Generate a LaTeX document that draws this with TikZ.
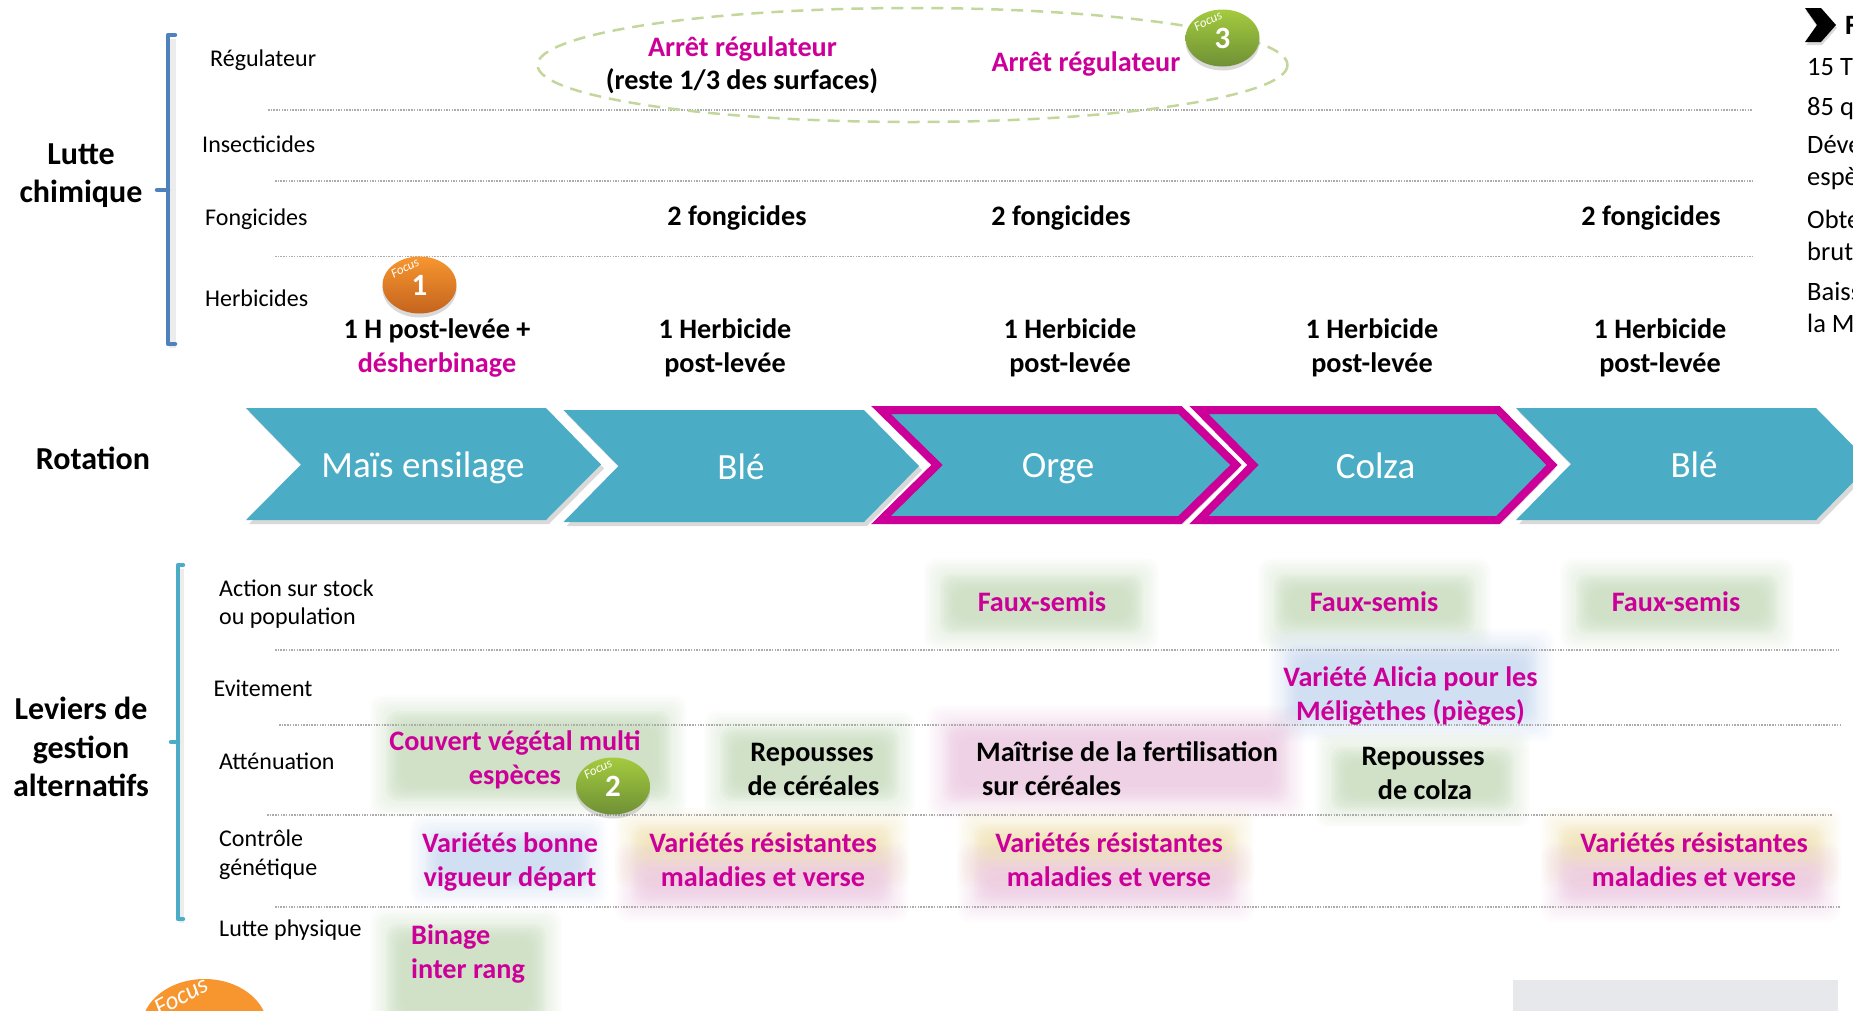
\documentclass[tikz,border=0pt]{standalone}
\usepackage{fontspec}
\setmainfont{Carlito}
\usetikzlibrary{shapes.geometric,shadows}
\definecolor{magentaleg}{HTML}{CC0099}
\definecolor{bluebrace}{HTML}{4F81BD}
\definecolor{tealbrace}{HTML}{4BACC6}
\definecolor{cropfill}{HTML}{4BACC6}
\definecolor{softgreen}{HTML}{C6DBBC}
\definecolor{softblue}{HTML}{C8D8F0}
\definecolor{softpink}{HTML}{EBC8E0}
\definecolor{softyellow}{HTML}{EFE0B0}
\definecolor{orangetop}{HTML}{F7962F}
\definecolor{orangelow}{HTML}{C4641E}
\definecolor{greentop}{HTML}{A4CB3E}
\definecolor{greenlow}{HTML}{6F9036}
\definecolor{dashgreen}{HTML}{C3D69B}
\definecolor{photogrey}{HTML}{E6E8EC}
\tikzset{%
	rowlabel/.style={anchor=west, align=left, inner sep=0pt, font=\fontsize{24}{28.5}\selectfont},
	sidetext/.style={rowlabel, font=\fontsize{26.5}{32}\selectfont},
	title/.style={align=center, inner sep=0pt, font=\fontsize{32}{38.5}\selectfont\bfseries},
	info/.style={align=center, inner sep=0pt, yshift=-1pt, font=\fontsize{28.2}{34}\selectfont\bfseries},
	lever/.style={info, text=magentaleg},
	dots/.style={draw=gray!65, line width=1.5pt, dash pattern=on 1.5pt off 1.2pt},
	bracket/.style={line width=4.5pt, line join=round, line cap=round},
	brackettail/.style={bracket, drop shadow={shadow xshift=1pt, shadow yshift=-4pt, opacity=.15, fill=gray}},
	crop/.style={fill=cropfill, drop shadow={shadow xshift=3pt, shadow yshift=-4pt, opacity=.3, fill=gray}},
	focuscrop/.style={crop, draw=magentaleg, line width=8pt, miter limit=10},
	croplabel/.style={text=white, inner sep=0pt, font=\fontsize{37}{40}\selectfont},
	badge/.style={ellipse, inner sep=0pt, minimum width=74pt, minimum height=57pt, text=white, font=\fontsize{31}{31}\selectfont\bfseries, drop shadow={shadow xshift=0pt, shadow yshift=-4pt, opacity=.3, fill=gray}},
	orangebadge/.style={badge, top color=orangetop, bottom color=orangelow},
	greenbadge/.style={badge, top color=greentop, bottom color=greenlow},
	focustag/.style={text=white, rotate=28, inner sep=0pt, font=\fontsize{13}{13}\selectfont\itshape}
}
% x1, y1, x2, y2, colour
\newcommand{\softpatch}[5]{%
	\foreach \inset in {-2,0,...,12} {
		\fill[#5, opacity=.05, rounded corners=12pt] (#1+\inset,#2+\inset) rectangle (#3-\inset,#4-\inset);
	}
	\foreach \inset in {14,16,...,30} {
		\fill[#5, opacity=.14, rounded corners=12pt] (#1+\inset,#2+\inset) rectangle (#3-\inset,#4-\inset);
	}
}
\begin{document}
\begin{tikzpicture}[x=1pt, y=-1pt]
	\useasboundingbox (0,0) rectangle (1853,1010);
	\clip (0,0) rectangle (1853,1010);

	\softpatch{926}{560}{1157}{648}{softgreen}
	\softpatch{1260}{560}{1489}{648}{softgreen}
	\softpatch{1562}{560}{1792}{648}{softgreen}
	\softpatch{1270}{630}{1552}{740}{softblue}
	\softpatch{929}{707}{1303}{817}{softpink}
	\softpatch{1317}{733}{1528}{825}{softgreen}
	\softpatch{372}{697}{685}{815}{softgreen}
	\softpatch{706}{713}{913}{815}{softgreen}
	\softpatch{412}{817}{605}{903}{softblue}
	\softpatch{372}{910}{560}{1040}{softgreen}
	\foreach \xa/\xb in {617/907, 959/1252, 1543/1839} {
		\softpatch{\xa}{810}{\xb}{885}{softyellow}
		\softpatch{\xa}{845}{\xb}{920}{softpink}
	}

	\draw[dots] (268,110) -- (1752,110);
	\draw[dots] (275,181) -- (1752,181);
	\draw[dots] (275,256.5) -- (1752,256.5);
	\draw[dots] (275,650) -- (1839,650);
	\draw[dots] (279,725) -- (1842,725);
	\draw[dots] (267,815) -- (1832,815);
	\draw[dots] (275,907) -- (1840,907);

	\draw[brackettail, bluebrace] (175,35) -- (168,35) -- (168,344) -- (175,344);
	\draw[bracket, bluebrace] (157,190) -- (168,190);
	\draw[brackettail, tealbrace] (183,565) -- (178,565) -- (178,919) -- (183,919);
	\draw[bracket, tealbrace] (171,742) -- (178,742);

	\node[title] (chem) at (81,175.5) {Lutte\\chimique};
	\node[title] (rot) at (93,458) {Rotation};
	\node[title] (alt) at (81,747) {Leviers de\\gestion\\alternatifs};

	\node[rowlabel] (reg) at (210,60.5) {Régulateur};
	\node[rowlabel] (ins) at (202,144) {Insecticides};
	\node[rowlabel] (fon) at (205,219) {Fongicides};
	\node[rowlabel] (her) at (205,298.5) {Herbicides};
	\node[rowlabel] (sto) at (219,604) {Action sur stock\\ou population};
	\node[rowlabel] (evi) at (213.5,688.5) {Evitement};
	\node[rowlabel] (att) at (219,761) {Atténuation};
	\node[rowlabel] (gen) at (219,854.5) {Contrôle\\génétique};
	\node[rowlabel] (phy) at (219,930) {Lutte physique};

	\draw[draw=dashgreen, line width=2.5pt, dash pattern=on 12pt off 8pt] (912.5,65) ellipse [x radius=375, y radius=57];
	\node[lever] (arr1) at (742.5,48) {Arrêt régulateur};
	\node[info] (arr2) at (742,80.6) {(reste 1/3 des surfaces)};
	\node[lever] (arr3) at (1086,63) {Arrêt régulateur};

	\node[info] (fg1) at (737,216.6) {2 fongicides};
	\node[info] (fg2) at (1061,216.6) {2 fongicides};
	\node[info] (fg3) at (1651,216.6) {2 fongicides};

	\node[info] (hb1) at (437,329.5) {1 H post-levée +};
	\node[lever] (hb1b) at (437,363.6) {désherbinage};
	\node[info] (hb2) at (725,346.5) {1 Herbicide\\post-levée};
	\node[info] (hb3) at (1070,346.5) {1 Herbicide\\post-levée};
	\node[info] (hb4) at (1372,346.5) {1 Herbicide\\post-levée};
	\node[info] (hb5) at (1660,346.5) {1 Herbicide\\post-levée};

	\path[crop] (1516,408) -- (1816,408) -- (1871,464) -- (1816,520) -- (1516,520) -- (1571,464) -- cycle;
	\path[crop] (563.5,410) -- (864,410) -- (919,466) -- (864,522) -- (563.5,522) -- (618.5,466) -- cycle;
	\path[crop] (246,408) -- (546,408) -- (601,464.5) -- (546,520) -- (246,520) -- (301,464.5) -- cycle;
	\path[focuscrop] (881,410) -- (1180,410) -- (1236,465) -- (1180,520) -- (881,520) -- (937,465) -- cycle;
	\path[focuscrop] (1199,410) -- (1498,410) -- (1552,465) -- (1498,520) -- (1199,520) -- (1253,465) -- cycle;

	\node[croplabel] (mais) at (423,467.5) {Maïs ensilage};
	\node[croplabel] (ble1) at (741,467) {Blé};
	\node[croplabel] (orge) at (1058,469) {Orge};
	\node[croplabel] (colza) at (1375.5,466) {Colza};
	\node[croplabel] (ble2) at (1694,465) {Blé};

	\node[lever] (fs1) at (1042,601) {Faux-semis};
	\node[lever] (fs2) at (1374,601) {Faux-semis};
	\node[lever] (fs3) at (1676,601) {Faux-semis};
	\node[lever] (ali) at (1410.5,695) {Variété Alicia pour les\\Méligèthes (pièges)};
	\node[info, align=left] (mai) at (1127,768) {Maîtrise de la fertilisation\\\hspace*{6pt}sur céréales};
	\node[info] (repc) at (1423,772.5) {Repousses\\\hspace*{4pt}de colza};
	\node[lever] (cou) at (515,759) {Couvert végétal multi\\espèces};
	\node[info] (rep) at (812,768.5) {Repousses\\\hspace*{3pt}de céréales};
	\node[lever] (vb) at (510,861) {Variétés bonne\\vigueur départ};
	\node[lever] (vr1) at (763,858.5) {Variétés résistantes\\maladies et verse};
	\node[lever] (vr2) at (1109,858.5) {Variétés résistantes\\maladies et verse};
	\node[lever] (vr3) at (1694,858.5) {Variétés résistantes\\maladies et verse};
	\node[lever, align=left, anchor=west] (bin) at (411,953) {Binage\\inter rang};

	\node[orangebadge] (bd1) at (419.5,285) {1};
	\node[focustag] (tg1) at (405,268) {Focus};
	\node[greenbadge] (bd2) at (613,786) {2};
	\node[focustag] (tg2) at (598,769) {Focus};
	\node[greenbadge] (bd3) at (1222.5,38) {3};
	\node[focustag] (tg3) at (1208,21) {Focus};
	\node[badge, top color=orangetop, bottom color=orangetop, minimum width=126pt, minimum height=98pt] (bd4) at (204.5,1028) {};
	\node[focustag, font=\fontsize{25}{25}\selectfont\itshape] (tg4) at (181,996) {Focus};

	\node[fill=photogrey, minimum width=325pt, minimum height=40pt, inner sep=0pt] (photo) at (1675.5,1000) {};

	\path[fill=black, drop shadow={shadow xshift=1pt, shadow yshift=-3pt, opacity=.3, fill=gray}] (1805,8) -- (1821,8) -- (1836,25) -- (1821,42) -- (1805,42) -- (1817,25) -- cycle;
	\node[rowlabel, font=\fontsize{28}{30}\selectfont\bfseries] (hd) at (1845,25) {F};
	\node[sidetext] (p1) at (1807,67) {15 T};
	\node[sidetext] (p2) at (1807,109) {85 q};
	\node[sidetext] (p3) at (1807,163) {Déve\\espè};
	\node[sidetext] (p4) at (1807,235) {Obte\\brut};
	\node[sidetext] (p5) at (1807,307) {Baiss\\la M};
\end{tikzpicture}
\end{document}
